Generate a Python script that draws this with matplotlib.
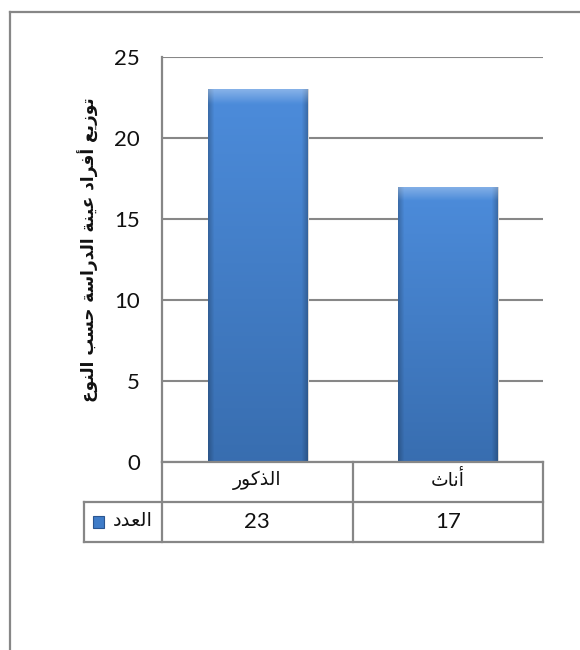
import numpy as np
import matplotlib
matplotlib.use("Agg")
import matplotlib.pyplot as plt
from matplotlib.lines import Line2D
from matplotlib.patches import Rectangle
import matplotlib.transforms as mtransforms

# ---------------- data ----------------
categories = ["الذكور", "أناث"]
values = [23, 17]
series_name = "العدد"
y_label = "توزيع أفراد عينة الدراسة حسب النوع"
y_ticks = [0, 5, 10, 15, 20, 25]

# ------------- simple Arabic shaping (presentation forms, visual order) -------------
FORMS = {
    '\u0627': ('\uFE8D', '\uFE8E', None, None),
    '\u0623': ('\uFE83', '\uFE84', None, None),
    '\u0628': ('\uFE8F', '\uFE90', '\uFE91', '\uFE92'),
    '\u0629': ('\uFE93', '\uFE94', None, None),
    '\u062A': ('\uFE95', '\uFE96', '\uFE97', '\uFE98'),
    '\u062B': ('\uFE99', '\uFE9A', '\uFE9B', '\uFE9C'),
    '\u062D': ('\uFEA1', '\uFEA2', '\uFEA3', '\uFEA4'),
    '\u062F': ('\uFEA9', '\uFEAA', None, None),
    '\u0630': ('\uFEAB', '\uFEAC', None, None),
    '\u0631': ('\uFEAD', '\uFEAE', None, None),
    '\u0632': ('\uFEAF', '\uFEB0', None, None),
    '\u0633': ('\uFEB1', '\uFEB2', '\uFEB3', '\uFEB4'),
    '\u0639': ('\uFEC9', '\uFECA', '\uFECB', '\uFECC'),
    '\u0641': ('\uFED1', '\uFED2', '\uFED3', '\uFED4'),
    '\u0643': ('\uFED9', '\uFEDA', '\uFEDB', '\uFEDC'),
    '\u0644': ('\uFEDD', '\uFEDE', '\uFEDF', '\uFEE0'),
    '\u0646': ('\uFEE5', '\uFEE6', '\uFEE7', '\uFEE8'),
    '\u0648': ('\uFEED', '\uFEEE', None, None),
    '\u064A': ('\uFEF1', '\uFEF2', '\uFEF3', '\uFEF4'),
}


def shape(s):
    out = []
    for i, c in enumerate(s):
        if c not in FORMS:
            out.append(c)
            continue
        prev = s[i - 1] if i > 0 else ''
        nxt = s[i + 1] if i + 1 < len(s) else ''
        jp = prev in FORMS and FORMS[prev][2] is not None
        jn = nxt in FORMS and FORMS[c][2] is not None
        iso, fin, ini, med = FORMS[c]
        if jp and jn:
            out.append(med)
        elif jp:
            out.append(fin)
        elif jn:
            out.append(ini)
        else:
            out.append(iso)
    return ''.join(reversed(out))


AR_FONT = ['DejaVu Sans']
NUM_FONT = ['Lato', 'DejaVu Sans']
GRID = '#878787'

W, H = 580, 650
fig = plt.figure(figsize=(W / 100, H / 100), dpi=100)
fig.patch.set_facecolor('white')


def fx(px):
    return px / W


def fy(py):
    return 1 - py / H


# plot area in pixels
L, R, T, B = 162, 543, 57, 462
ax = fig.add_axes([fx(L), fy(B), fx(R) - fx(L), fy(T) - fy(B)])
ax.set_facecolor('none')

x = np.arange(len(categories))
bars = ax.bar(x, values, width=0.52, color='#4080cf', zorder=3, linewidth=0)

# gradient fill inside bars
ny, nx = 200, 100
for b in bars:
    x0, w, h = b.get_x(), b.get_width(), b.get_height()
    yy = np.linspace(1, 0, ny)[:, None]  # 1 at top
    xx = np.linspace(0, 1, nx)[None, :]
    top = np.array([0.30, 0.55, 0.86])
    bot = np.array([0.22, 0.43, 0.69])
    base = bot[None, None, :] + (top - bot)[None, None, :] * yy[..., None]
    edge = np.minimum(xx, 1 - xx)
    fac = 0.78 + 0.22 * np.clip(edge / 0.06, 0, 1)
    img = base * fac[..., None]
    # top bevel highlight
    bev_h = 0.035 * 25 / h
    bev = np.clip((yy - (1 - bev_h)) / bev_h, 0, 1)
    img = img + (np.array([0.93, 0.96, 1.0]) - img) * (0.35 * bev[..., None]) * np.ones((1, nx, 1))
    im = ax.imshow(np.clip(img, 0, 1), extent=[x0, x0 + w, 0, h], aspect='auto',
                   zorder=3.5, interpolation='bilinear')
    im.set_clip_path(b)
    ax.add_patch(Rectangle((x0 + w, 0), w * 0.02, h, color='#d8d8d8', zorder=2.9, lw=0))

ax.set_xlim(-0.5, len(categories) - 0.5)
ax.set_ylim(0, 25)
ax.set_yticks(y_ticks)
ax.set_yticklabels([str(v) for v in y_ticks], fontsize=16, family=NUM_FONT, color='#111111')
ax.tick_params(axis='y', length=0, pad=16)
ax.set_xticks([])
ax.yaxis.grid(True, color=GRID, linewidth=1.5, zorder=1)
ax.set_axisbelow(True)
for s in ['top', 'right']:
    ax.spines[s].set_visible(False)
ax.spines['left'].set_color(GRID)
ax.spines['left'].set_linewidth(1.6)
ax.spines['bottom'].set_color(GRID)
ax.spines['bottom'].set_linewidth(1.6)
ax.spines['bottom'].set_zorder(4)

# ---------------- data table ----------------
ta = ax.transAxes
row1 = (B - 502) / (B - T)
row2 = (B - 542) / (B - T)
legL = (84 - L) / (R - L)
lk = dict(color=GRID, linewidth=1.6, transform=ta, clip_on=False, solid_capstyle='projecting')
ax.add_line(Line2D([0, 0], [0, row2], **lk))
ax.add_line(Line2D([0.5, 0.5], [0, row2], **lk))
ax.add_line(Line2D([1, 1], [0, row2], **lk))
ax.add_line(Line2D([legL, legL], [row1, row2], **lk))
ax.add_line(Line2D([legL, 1], [row1, row1], **lk))
ax.add_line(Line2D([legL, 1], [row2, row2], **lk))

bt = mtransforms.blended_transform_factory(ax.transData, ax.transAxes)
for xi, cat, v in zip(x, categories, values):
    ax.text(xi, row1 / 2 + 0.004, shape(cat), transform=bt, ha='center', va='center',
            fontsize=13.5, family=AR_FONT, color='#111111')
    ax.text(xi, (row1 + row2) / 2, str(v), transform=bt, ha='center', va='center',
            fontsize=16, family=NUM_FONT, color='#111111')

# legend cell
fig.text(fx(153), fy(521), shape(series_name), ha='right', va='center',
         fontsize=14, family=AR_FONT, color='#111111')
fig.add_artist(Rectangle((fx(93), fy(528)), fx(11), fy(516) - fy(528),
                         transform=fig.transFigure, facecolor='#3f7cc8',
                         edgecolor='#2a5590', linewidth=0.8))

# y label
fig.text(fx(88), fy(250), shape(y_label), rotation=90, ha='center', va='center',
         fontsize=12.2, fontweight='bold', family=AR_FONT, color='#111111')

# outer frame (partial, as in reference)
fig.add_artist(Line2D([fx(10), fx(10)], [fy(12), 0], transform=fig.transFigure,
                      color=GRID, linewidth=1.6))
fig.add_artist(Line2D([fx(10), 1], [fy(12), fy(12)], transform=fig.transFigure,
                      color=GRID, linewidth=1.6))

fig.savefig('out.png', dpi=100)
